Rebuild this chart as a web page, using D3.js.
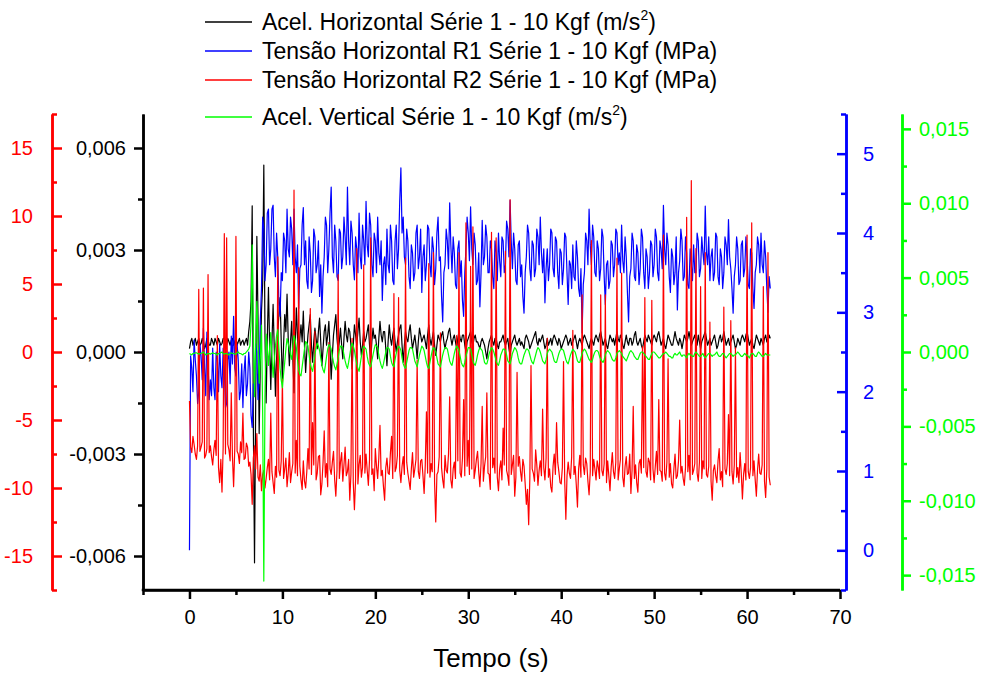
<!DOCTYPE html>
<html>
<head>
<meta charset="utf-8">
<script src="https://cdn.jsdelivr.net/npm/d3@7"></script>
<style>
  body { margin: 0; background: #fff; }
  svg { display: block; }
  text { font-family: "Liberation Sans", Arial, sans-serif; }
</style>
</head>
<body>
<svg id="chart" width="983" height="673"></svg>
<script>
// Sampling step of the recorded series (s); sample i is at t = i * dt
const dt = 0.125;

const timeTicks = [0, 10, 20, 30, 40, 50, 60, 70];
const accelHTicks = [-0.006, -0.003, 0, 0.003, 0.006];
const tensionR1Ticks = [0, 1, 2, 3, 4, 5];
const tensionR2Ticks = [-15, -10, -5, 0, 5, 10, 15];
const accelVTicks = [-0.015, -0.010, -0.005, 0, 0.005, 0.010, 0.015];

// Horizontal acceleration, m/s² (one row = 2.5 s)
const accelH = [
  0.0001, 0.0003, 0.0004, 0.0002, 0.0003, 0.0004, 0.0002, 0.0003, 0.0004, 0.0002, 0.00025, 0.0004, 0.0003, 0.0001, 0.0002, 0.0004, 0.00035, 0.0002, 0.0002, 0.0004,
  0.0003, 0.0002, 0.0004, 0.0003, 0.0002, 0.0004, 0.0003, 0.0002, 0.00025, 0.0004, 0.0004, 0.0002, 0.0002, 0.0004, 0.0003, 0.0002, 0.00035, 0.0004, 0.0002, 0.0003,
  0.0004, 0.0002, 0.0003, 0.0004, 0.0002, 0.0003, 0.00035, 0.0002, 0.0003, 0.0004, 0.0002, 0.0006, 0.0009, 0.0015, 0.0043, -0.0022, -0.0062, -0.0015, 0.0034, 0.0010,
  -0.0024, -0.0004, 0.0012, 0.0020, 0.0055, 0.0005, -0.0015, 0.0004, 0.0019, 0.0002, -0.0011, 0.0003, 0.0014, 0.0001, -0.0013, -0.0002, 0.0006, 0.0011, 0.0016, 0.0003,
  -0.0009, 0.0002, 0.0011, 0.0006, 0.0017, 0.0004, -0.0004, 0.0003, 0.0009, -0.0002, -0.0012, 0.0001, 0.0013, 0.0005, -0.0002, 0.0004, 0.0008, 0.0003, 0.0012, 0.0002,
  -0.0006, 0.0000, 0.0005, 0.0008, 0.0011, 0.0002, -0.0003, 0.0003, 0.0007, 0.0004, 0.0001, 0.0006, 0.0010, 0.0003, -0.0004, 0.0001, 0.0006, 0.0008, 0.0002, 0.0005,
  0.0009, 0.0001, -0.0008, -0.0001, 0.0005, 0.0008, 0.0011, 0.0004, 0.0000, 0.0003, 0.0007, 0.0002, -0.0002, 0.0004, 0.0009, 0.0005, 0.0003, 0.0007, 0.0006, 0.0002,
  -0.0005, 0.0002, 0.0008, 0.0005, 0.0002, 0.0006, 0.0010, 0.0003, -0.0001, 0.0002, 0.0006, 0.0003, 0.0004, 0.0006, 0.0008, 0.0002, -0.0003, 0.0003, 0.0007, 0.0004,
  0.0005, 0.0002, -0.0002, 0.0004, 0.0009, 0.0005, 0.0003, 0.0006, 0.0006, 0.0001, -0.0004, 0.0003, 0.0008, 0.0004, 0.0002, 0.0005, 0.0007, 0.0003, 0.0000, 0.0003,
  0.0005, 0.0007, 0.0008, 0.0002, -0.0003, 0.0002, 0.0006, 0.0004, 0.0003, 0.0006, 0.0008, 0.0004, 0.0001, 0.0003, 0.0005, 0.0002, -0.0002, 0.0003, 0.0007, 0.0005,
  0.0003, 0.0004, 0.0005, 0.0003, 0.0001, 0.0005, 0.0008, 0.0004, 0.0002, 0.0004, 0.0006, 0.0002, -0.0001, 0.0002, 0.0005, 0.0004, 0.0003, 0.0005, 0.0006, 0.0003,
  0.0001, 0.0003, 0.0004, 0.0006, 0.0007, 0.0004, 0.0002, 0.0004, 0.0005, 0.0003, 0.0001, 0.0004, 0.0006, 0.0004, 0.0003, 0.0005, 0.0005, 0.0002, 0.0000, 0.0003,
  0.0004, 0.0005, 0.0006, 0.0003, 0.0002, 0.0004, 0.0005, 0.0003, 0.0003, 0.0002, 0.0001, 0.0003, 0.0004, 0.0003, 0.0002, 0.0000, -0.0002, 0.0001, 0.0003, 0.0004,
  0.0005, 0.0003, 0.0002, 0.0004, 0.0004, 0.0002, 0.0001, 0.0003, 0.0003, 0.0004, 0.0005, 0.0003, 0.0002, 0.0003, 0.0004, 0.0001, -0.0001, 0.0002, 0.0003, 0.0004,
  0.0005, 0.0003, 0.0002, 0.0003, 0.0004, 0.0002, 0.0003, 0.0002, 0.0001, 0.0004, 0.0005, 0.0004, 0.0003, 0.0001, 0.0002, 0.0003, 0.0004, 0.0005, 0.0006, 0.0003,
  0.0002, 0.0004, 0.0003, 0.0004, 0.0005, 0.0003, 0.0001, 0.0002, 0.0004, 0.0002, 0.0003, 0.0004, 0.0002, 0.0004, 0.0005, 0.0004, 0.0003, 0.0002, 0.0004, 0.0003,
  0.0001, 0.0002, 0.0003, 0.0004, 0.0005, 0.0004, 0.0002, 0.0003, 0.0004, 0.0002, 0.0003, 0.0004, 0.0005, 0.0003, 0.0001, 0.0003, 0.0004, 0.0003, 0.0002, 0.0004,
  0.0005, 0.0004, 0.0003, 0.0002, 0.0001, 0.0003, 0.0004, 0.0003, 0.0002, 0.0004, 0.0005, 0.0004, 0.0003, 0.0005, 0.0006, 0.0004, 0.0002, 0.0003, 0.0004, 0.0002,
  0.0001, 0.0003, 0.0005, 0.0004, 0.0003, 0.0004, 0.0002, 0.0004, 0.0006, 0.0004, 0.0003, 0.0005, 0.0004, 0.0002, 0.0001, 0.0003, 0.0005, 0.0003, 0.0002, 0.0004,
  0.0004, 0.0002, 0.0003, 0.0005, 0.0006, 0.0003, 0.0002, 0.0003, 0.0004, 0.0002, 0.0001, 0.0003, 0.0005, 0.0004, 0.0003, 0.0005, 0.0004, 0.0003, 0.0002, 0.0004,
  0.0005, 0.0004, 0.0003, 0.0005, 0.0006, 0.0004, 0.0002, 0.0003, 0.0004, 0.0002, 0.0001, 0.0003, 0.0005, 0.0004, 0.0003, 0.0002, 0.0002, 0.0004, 0.0006, 0.0004,
  0.0003, 0.0002, 0.0004, 0.0003, 0.0001, 0.0003, 0.0005, 0.0004, 0.0003, 0.0004, 0.0006, 0.0004, 0.0002, 0.0003, 0.0004, 0.0005, 0.0003, 0.0002, 0.0005, 0.0003,
  0.0001, 0.0003, 0.0004, 0.0005, 0.0006, 0.0004, 0.0002, 0.0003, 0.0004, 0.0002, 0.0003, 0.0004, 0.0005, 0.0003, 0.0001, 0.0002, 0.0004, 0.0005, 0.0003, 0.0004,
  0.0006, 0.0004, 0.0002, 0.0003, 0.0004, 0.0002, 0.0003, 0.0004, 0.0005, 0.0003, 0.0001, 0.0002, 0.0004, 0.0003, 0.0002, 0.0004, 0.0005, 0.0004, 0.0003, 0.0005,
  0.0006, 0.0004, 0.0002, 0.0003, 0.0004, 0.0002, 0.0001, 0.0003, 0.0005, 0.0004, 0.0003, 0.0002, 0.0004, 0.0003, 0.0002, 0.0004, 0.0005, 0.0003, 0.0003, 0.0005,
  0.0004
];

// Horizontal stress on rosette R1, MPa
const tensionR1 = [
  0.0, 2.45, 2.3, 2.0, 2.65, 2.4, 2.2, 1.85, 2.0, 2.6, 2.45, 2.15, 2.8, 2.3, 1.95, 2.75, 2.35, 1.9, 2.15, 1.95,
  2.55, 2.05, 1.9, 2.5, 2.4, 2.0, 2.6, 2.2, 2.05, 2.55, 2.3, 1.8, 1.85, 2.4, 2.5, 2.1, 2.7, 2.35, 2.95, 2.3,
  2.2, 2.6, 2.4, 1.9, 2.0, 2.35, 1.8, 2.25, 2.45, 1.95, 2.1, 2.5, 2.3, 1.7, 1.55, 2.1, 2.0, 2.6, 2.5, 1.9,
  2.2, 2.9, 3.3, 4.2, 4.05, 3.4, 3.6, 4.25, 4.3, 3.6, 3.8, 4.3, 4.35, 3.7, 3.45, 4.0, 3.7, 3.1, 2.95, 3.5,
  3.4, 4.0, 3.9, 3.5, 4.3, 3.8, 3.7, 4.2, 4.05, 3.6, 4.3, 3.7, 3.5, 3.85, 3.05, 3.55, 3.6, 4.1, 4.32, 3.6,
  3.9, 3.4, 3.3, 3.95, 3.75, 3.25, 3.4, 4.05, 3.95, 3.5, 3.6, 3.9, 3.2, 3.6, 2.99, 3.45, 3.7, 4.2, 4.1, 3.5,
  3.8, 4.25, 4.58, 3.7, 3.5, 4.1, 3.9, 3.45, 3.4, 4.05, 4.0, 3.55, 3.7, 4.2, 3.95, 3.6, 4.58, 3.9, 3.6, 4.15,
  4.0, 3.6, 3.41, 3.95, 3.8, 3.5, 4.25, 3.7, 3.55, 4.1, 3.9, 3.6, 4.4, 3.85, 3.7, 4.25, 4.1, 3.6, 3.45, 4.0,
  3.9, 3.5, 4.2, 3.75, 3.6, 3.9, 3.15, 3.6, 3.7, 3.35, 4.05, 3.6, 3.5, 4.1, 3.9, 3.4, 3.35, 3.9, 4.1, 3.55,
  3.8, 4.4, 4.82, 4.0, 4.2, 3.7, 3.6, 4.05, 3.9, 3.45, 3.3, 3.85, 3.75, 3.4, 3.5, 4.0, 4.1, 3.55, 3.7, 4.05,
  3.25, 3.7, 3.85, 3.4, 3.6, 4.1, 4.05, 3.6, 3.45, 3.95, 3.8, 3.35, 3.55, 4.0, 4.2, 3.65, 3.7, 3.2, 2.88, 3.5,
  3.6, 4.05, 3.9, 3.55, 4.38, 3.85, 3.5, 3.95, 3.75, 3.35, 3.3, 3.8, 3.9, 3.45, 3.65, 3.15, 2.95, 3.5, 3.8, 4.2,
  4.0, 3.65, 4.33, 3.8, 3.6, 4.0, 3.85, 3.35, 3.4, 3.75, 3.07, 3.5, 4.16, 3.6, 3.7, 4.1, 3.95, 3.5, 3.5, 3.9,
  3.8, 3.45, 3.3, 3.9, 3.75, 3.4, 4.0, 3.65, 3.45, 3.95, 3.9, 3.5, 3.6, 4.15, 4.05, 3.7, 4.41, 3.9, 3.55, 4.0,
  3.8, 3.4, 3.35, 3.85, 3.9, 3.45, 3.6, 3.2, 2.99, 3.5, 3.7, 4.1, 4.0, 3.55, 3.4, 3.9, 3.85, 3.45, 3.55, 4.05,
  3.95, 3.6, 4.2, 3.75, 3.5, 3.8, 3.12, 3.55, 3.8, 3.4, 3.6, 4.05, 4.0, 3.55, 3.45, 3.95, 3.9, 3.5, 3.3, 3.8,
  3.75, 3.35, 3.55, 4.0, 3.95, 3.5, 3.1, 3.65, 3.6, 3.3, 3.85, 3.45, 3.4, 3.9, 3.7, 3.3, 3.2, 3.55, 2.74, 3.35,
  3.5, 4.0, 3.9, 3.6, 4.3, 3.85, 3.6, 4.1, 3.95, 3.5, 3.45, 3.9, 3.8, 3.4, 3.55, 4.05, 3.95, 3.45, 3.1, 3.6,
  3.65, 3.3, 3.4, 3.9, 3.85, 3.45, 3.6, 4.05, 4.0, 3.6, 3.75, 3.5, 4.1, 3.65, 3.5, 3.95, 3.7, 3.25, 2.88, 3.45,
  3.55, 4.0, 3.9, 3.45, 3.4, 3.85, 3.75, 3.35, 3.55, 4.05, 3.95, 3.5, 3.3, 3.8, 3.7, 3.3, 3.5, 3.9, 3.85, 3.45,
  3.6, 4.05, 3.95, 3.5, 3.4, 3.9, 3.8, 3.55, 4.35, 3.8, 3.6, 4.0, 3.85, 3.45, 3.25, 3.8, 3.7, 3.35, 3.5, 3.95,
  3.03, 3.5, 3.65, 4.05, 3.9, 3.4, 3.45, 3.95, 3.75, 3.35, 3.3, 3.8, 3.6, 3.4, 3.85, 3.5, 3.5, 4.0, 3.9, 3.45,
  3.55, 3.95, 3.75, 3.6, 4.34, 3.75, 3.6, 3.95, 3.4, 3.7, 3.8, 3.4, 3.5, 4.0, 3.95, 3.45, 3.35, 3.8, 3.7, 3.3,
  3.5, 3.95, 3.85, 3.6, 4.17, 3.7, 3.55, 3.3, 2.99, 3.45, 3.6, 3.95, 3.8, 3.35, 3.4, 3.85, 3.9, 3.45, 3.55, 3.95,
  3.7, 3.35, 3.3, 3.8, 3.75, 3.3, 3.05, 3.5, 3.6, 3.95, 3.85, 3.5, 4.0, 3.6, 3.5, 3.9, 3.7, 3.3, 3.0, 3.45,
  3.3
];

// Horizontal stress on rosette R2, MPa
const tensionR2 = [
  -3.6, -7.0, -7.4, -6.2, -6.8, -7.5, -7.9, -6.9, 4.6, -7.3, -7.0, -6.6, 4.7, -7.8, -7.6, -7.1, 5.7, -7.4, -6.9, -7.7,
  -8.3, -7.2, -6.5, -7.6, 1.2, -8.5, -9.6, -7.9, -10.3, -7.0, 8.7, -7.5, 8.4, -6.8, -7.2, -8.0, -3.0, -7.7, -9.9, -7.1,
  8.5, -7.3, -7.5, -8.2, -6.6, -7.4, -4.5, -7.9, -7.8, -6.7, -7.0, -8.4, -8.1, -9.0, -11.2, -7.8, -6.9, -8.6, -6.0, -9.2,
  -9.5, -8.3, -10.2, -9.0, -8.7, -10.0, -9.3, -8.5, -7.9, -9.4, -4.5, -8.8, -9.6, -10.4, -8.4, -9.2, 7.0, -8.7, -9.1, -8.0,
  -2.0, -9.3, -8.6, -7.8, -9.9, -8.9, -7.4, -9.6, -8.8, -8.2, 11.9, -8.9, -6.5, -9.1, 6.2, -8.4, -9.4, -10.1, -8.0, -9.5,
  -10.0, -8.8, -7.1, -8.6, 3.2, -9.0, -5.2, -8.3, 1.5, -9.4, -8.9, -7.7, -7.6, -10.5, -9.7, -8.1, -5.8, -9.2, -8.2, -9.9,
  0.7, -8.6, -9.0, -8.1, -7.3, -9.4, -10.6, -8.7, 5.7, -9.3, -8.1, -7.4, -9.5, -8.3, -7.0, -9.1, -8.8, -7.9, -10.9, -9.0,
  1.0, -9.6, -11.6, -9.4, 7.6, -9.7, -8.3, -7.6, -9.2, -8.5, 6.4, -8.9, -7.5, -8.7, -9.8, -7.9, 8.4, -9.0, -8.6, -10.2,
  -7.1, -8.4, -9.3, -7.8, -5.4, -9.1, -8.7, -9.9, -10.9, -8.5, -7.8, -8.9, -9.0, -7.4, -6.2, -9.3, 4.3, -8.8, -8.5, -7.6,
  4.0, -8.7, -9.6, -8.4, -7.7, -9.0, 6.9, -8.1, -8.9, -9.5, -10.1, -8.6, -7.4, -9.2, -8.6, -7.9, -0.6, -8.8, -9.3, -8.0,
  -7.9, -9.1, -10.4, -8.3, -4.4, -8.9, 6.5, -9.2, -8.2, -8.8, 7.3, -9.6, -12.5, -9.0, -8.8, -7.7, 1.4, -8.5, -9.4, -10.0,
  -7.6, -8.7, -8.9, -7.5, -3.3, -9.4, -10.0, -8.6, -8.1, -9.3, 1.2, -8.0, 7.3, -8.9, -9.2, -7.8, -3.5, -9.1, 9.5, -8.4,
  -6.5, -9.0, 6.3, -8.6, 9.2, -9.3, -8.7, -7.9, -7.3, -8.8, -9.9, -8.2, -4.0, -9.5, -8.4, -7.7, -3.0, -8.9, -9.0, -10.1,
  8.8, -8.5, -7.8, -8.9, 8.4, -9.2, -10.2, -8.6, -8.0, -9.4, -5.6, -8.3, 7.4, -8.7, -9.1, -9.8, 11.2, -9.0, -8.3, -7.6,
  -10.6, -9.2, -1.5, -8.4, -7.7, -8.8, -9.5, -7.9, -8.4, -9.7, -11.2, -10.1, -12.7, -9.3, -1.0, -8.6, -8.9, -9.5, -7.2, -8.3,
  -9.8, -8.7, -8.0, -9.1, -4.2, -8.5, -9.4, -7.8, 1.0, -9.2, -8.6, -9.9, -10.3, -8.4, -7.5, -9.0, -5.2, -8.1, -8.8, -9.6,
  -9.7, -8.5, -0.7, -9.4, -12.3, -9.1, -8.1, -8.9, -9.3, -7.7, 1.6, -9.0, -8.4, -9.8, -11.4, -8.6, -7.6, -9.2, 4.2, -8.3,
  -9.0, -7.8, -8.2, -9.5, -10.5, -8.8, 8.2, -9.1, -7.9, -8.6, -9.4, -8.0, -8.5, -9.3, 4.2, -8.7, -9.1, -8.2, 4.2, -9.6,
  -8.0, -9.1, -10.2, -8.5, -7.4, -8.8, -9.3, -8.1, 6.9, -9.4, -8.6, -7.9, 5.8, -9.2, -9.9, -8.4, -7.7, -9.0, -8.9, -7.5,
  -10.4, -8.7, -4.0, -9.3, -8.3, -9.6, -10.3, -8.2, -7.9, -8.9, 0.4, -8.5, 4.0, -8.8, -9.2, -7.8, -8.1, -9.4, 3.8, -8.6,
  -9.6, -8.4, -7.3, -9.0, -3.5, -8.7, -8.8, -9.5, 8.6, -8.9, -9.4, -8.1, -0.5, -9.2, -8.2, -9.7, -10.0, -8.6, -7.5, -9.3,
  -9.1, -8.0, -5.0, -8.9, -8.4, -9.3, -9.8, -8.5, 9.9, -8.8, -7.6, -9.4, 12.6, -9.0, -8.7, -8.2, 7.6, -8.9, -9.5, -8.1,
  4.8, -9.3, -8.0, -8.6, 7.3, -9.0, -9.2, -8.4, 2.2, -9.5, -10.9, -8.7, -8.3, -9.1, -9.6, -8.0, -7.1, -9.4, -8.8, -9.9,
  3.3, -8.6, -9.0, -8.2, -4.6, -9.1, 2.3, -8.8, -9.7, -8.3, 0.3, -9.2, -8.5, -9.6, -7.4, -8.9, -10.8, -9.0, -8.2, -9.4,
  8.6, -8.8, -9.3, -8.5, 9.5, -9.1, -8.0, -9.4, -10.6, -8.7, -7.5, -8.9, -9.0, -8.3, 4.8, -9.5, -10.7, -8.6, 7.3, -9.2,
  -9.8
];

// Vertical acceleration, m/s²
const accelV = [
  -0.0001, -0.00015, -0.0002, -0.0001, -0.0001, -0.00005, -0.00005, -0.0001, -0.00015, -0.0001, -0.0001, -0.00005, 0.0000, -0.0001, -0.0002, -0.00015, -0.0001, -0.0001, -0.00015, -0.0001,
  -0.00005, -0.0001, -0.0001, -0.00015, -0.0002, -0.0001, -0.0001, -0.00005, 0.0000, -0.0001, -0.00015, -0.0001, -0.0001, -0.00015, -0.0002, -0.0001, -0.00005, -0.0001, -0.0001, -0.00015,
  -0.00015, -0.00005, 0.0000, -0.0001, -0.0001, -0.00015, -0.0002, -0.0001, -0.0001, 0.0000, 0.0001, 0.0002, 0.0004, 0.0020, 0.0072, 0.0015, -0.0030, 0.0005, 0.0034, 0.0008,
  -0.0021, -0.0004, 0.0018, -0.0040, -0.0154, -0.0030, 0.0012, 0.0003, -0.0009, 0.0002, 0.0013, -0.0003, -0.0017, -0.0006, 0.0004, 0.0011, 0.0015, 0.0002, -0.0011, -0.0019,
  -0.0024, -0.0015, -0.0007, 0.0002, 0.0009, 0.0006, 0.0002, -0.0002, -0.0005, 0.0004, 0.0011, 0.0008, 0.0003, -0.0005, -0.0012, -0.0015, -0.0016, -0.0010, -0.0004, 0.0002,
  0.0007, 0.0006, 0.0004, -0.0002, -0.0008, -0.0011, -0.0013, -0.0008, -0.0002, 0.0003, 0.0006, 0.0004, 0.0001, -0.0004, -0.0009, -0.0012, -0.0014, -0.0009, -0.0003, 0.0002,
  0.0005, 0.0004, 0.0002, -0.0003, -0.0007, -0.0010, -0.0012, -0.0008, -0.0004, 0.0001, 0.0004, 0.0004, 0.0003, -0.0002, -0.0006, -0.0009, -0.0011, -0.0007, -0.0002, 0.0003,
  0.0006, 0.0004, 0.0001, -0.0004, -0.0008, -0.0011, -0.0013, -0.0008, -0.0003, 0.0001, 0.0004, 0.0003, 0.0002, -0.0003, -0.0007, -0.0009, -0.0010, -0.0006, -0.0002, 0.0002,
  0.0005, 0.0004, 0.0003, -0.0002, -0.0006, -0.0009, -0.0011, -0.0008, -0.0004, 0.0000, 0.0003, 0.0003, 0.0002, -0.0003, -0.0007, -0.0009, -0.0010, -0.0005, -0.0001, 0.0002,
  0.0004, 0.0003, 0.0001, -0.0004, -0.0008, -0.0010, -0.0011, -0.0007, -0.0003, 0.0001, 0.0003, 0.0003, 0.0002, -0.0002, -0.0006, -0.0008, -0.0010, -0.0006, -0.0002, 0.0001,
  0.0004, 0.0003, 0.0001, -0.0003, -0.0007, -0.0010, -0.0011, -0.0007, -0.0003, 0.0001, 0.0003, 0.0002, 0.0000, -0.0004, -0.0008, -0.0009, -0.0010, -0.0006, -0.0002, 0.0001,
  0.0003, 0.0003, 0.0002, -0.0002, -0.0006, -0.0008, -0.0009, -0.0005, -0.0001, 0.0002, 0.0004, 0.0003, 0.0001, -0.0003, -0.0007, -0.0009, -0.0010, -0.0007, -0.0003, 0.0000,
  0.0003, 0.0003, 0.0002, -0.0002, -0.0006, -0.0008, -0.0009, -0.0006, -0.0002, 0.0001, 0.0003, 0.0002, 0.0001, -0.0003, -0.0007, -0.0008, -0.0008, -0.0005, -0.0001, 0.0001,
  0.0003, 0.0002, 0.0000, -0.0003, -0.0006, -0.0008, -0.0009, -0.0006, -0.0002, 0.0000, 0.0002, 0.0002, 0.0001, -0.0002, -0.0006, -0.0007, -0.0008, -0.0005, -0.0001, 0.0001,
  0.0003, 0.0002, 0.0000, -0.0004, -0.0007, -0.0008, -0.0008, -0.0005, -0.0002, 0.0000, 0.0002, 0.0002, 0.0001, -0.0002, -0.0005, -0.0007, -0.0008, -0.0005, -0.0002, 0.0001,
  0.0003, 0.0002, 0.0000, -0.0003, -0.0006, -0.0007, -0.0008, -0.0005, -0.0001, 0.0001, 0.0002, 0.0001, 0.0000, -0.0003, -0.0006, -0.0007, -0.0007, -0.0004, -0.0001, 0.0001,
  0.0002, 0.0002, 0.0001, -0.0002, -0.0005, -0.0007, -0.0008, -0.0005, -0.0002, 0.0000, 0.0002, 0.0001, 0.0000, -0.0003, -0.0006, -0.0007, -0.0007, -0.0004, -0.0001, 0.0001,
  0.0002, 0.0001, -0.0001, -0.0003, -0.0005, -0.0006, -0.0007, -0.0005, -0.0002, 0.0000, 0.0001, 0.0001, 0.0000, -0.0003, -0.0005, -0.0006, -0.0007, -0.0005, -0.0002, 0.0000,
  0.0001, 0.0000, -0.0001, -0.0003, -0.0005, -0.0006, -0.0006, -0.0004, -0.0001, 0.0000, 0.0001, 0.0000, -0.0001, -0.0003, -0.0004, -0.0005, -0.0006, -0.0004, -0.0002, 0.0000,
  0.0001, 0.0000, -0.0001, -0.0003, -0.0004, -0.0005, -0.0005, -0.0003, -0.0001, 0.0000, 0.0000, -0.0001, -0.0002, -0.0003, -0.0004, -0.0005, -0.0005, -0.0003, -0.0001, 0.0000,
  0.0000, -0.0001, -0.0002, -0.0003, -0.0004, -0.0004, -0.0003, -0.0002, -0.0001, -0.0001, 0.0000, -0.0001, -0.0002, -0.0003, -0.0003, -0.0004, -0.0004, -0.0002, -0.0001, -0.0002,
  -0.0002, -0.0001, 0.0000, -0.0002, -0.0003, -0.0002, -0.0002, -0.0003, -0.0004, -0.0002, -0.0001, -0.0002, -0.0002, -0.0003, -0.0003, -0.0001, 0.0000, -0.0001, -0.0002, -0.0003,
  -0.0003, -0.0002, -0.0001, -0.0003, -0.0004, -0.0003, -0.0002, -0.0001, -0.0001, -0.0002, -0.0003, -0.0002, -0.0002, -0.0001, 0.0000, -0.0002, -0.0003, -0.0003, -0.0002, -0.0001,
  -0.0001, -0.0003, -0.0004, -0.0003, -0.0002, -0.0001, -0.0001, -0.0002, -0.0003, -0.0002, -0.0002, -0.0001, 0.0000, -0.0001, -0.0002, -0.0003, -0.0003, -0.0002, -0.0001, -0.0002,
  -0.0002, -0.0003, -0.0004, -0.0002, -0.0001, -0.0001, -0.0002, -0.0003, -0.0003, -0.0001, 0.0000, -0.0001, -0.0002, -0.0003, -0.0003, -0.0002, -0.0001, -0.0002, -0.0002, -0.0002,
  -0.0002
];

const legendLabels = [
  { main: "Acel. Horizontal Série 1 - 10 Kgf (m/s", sup: "2", tail: ")" },
  { main: "Tensão Horizontal R1 Série 1 - 10 Kgf (MPa)" },
  { main: "Tensão Horizontal R2 Série 1 - 10 Kgf (MPa)" },
  { main: "Acel. Vertical Série 1 - 10 Kgf (m/s", sup: "2", tail: ")" }
];
const xTitle = "Tempo (s)";

const BLACK = "#000000", BLUE = "#0000ff", RED = "#ff0000", GREEN = "#00ff00";

const svg = d3.select("#chart");

// Plot area: x spans -5..70 s; every y axis shares the same vertical extent
const plotTop = 114, plotBottom = 590;
const x = d3.scaleLinear().domain([-5, 70]).range([143, 840]);
const yH = d3.scaleLinear().domain([-0.007, 0.007]).range([plotBottom, plotTop]);
const yR1 = d3.scaleLinear().domain([-0.5, 5.5]).range([plotBottom, plotTop]);
const yR2 = d3.scaleLinear().domain([-17.5, 17.5]).range([plotBottom, plotTop]);
const yV = d3.scaleLinear().domain([-0.016, 0.016]).range([plotBottom, plotTop]);

// Decimal comma, hyphen minus
const loc = d3.formatLocale({ decimal: ",", thousands: ".", grouping: [3], currency: ["", ""], minus: "-" });
const f3 = loc.format(".3f");
const f0 = loc.format("d");

function styleAxis(g, color, fontSize) {
  g.attr("font-family", null).attr("font-size", null);
  g.select(".domain").attr("stroke", color).attr("stroke-width", 2.5);
  g.selectAll(".tick line").attr("stroke", color).attr("stroke-width", 2.5);
  g.selectAll(".tick text").attr("fill", color).style("font-size", fontSize + "px");
}
function minorTicks(start, stop, step) {
  return d3.range(start, stop + step / 2, step);
}

// ---- Bottom time axis ----
const gx = svg.append("g").attr("transform", `translate(0,${plotBottom})`)
  .call(d3.axisBottom(x).tickValues(timeTicks).tickFormat(f0).tickSize(9).tickSizeOuter(0).tickPadding(11));
styleAxis(gx, BLACK, 20);
const gxm = svg.append("g").attr("transform", `translate(0,${plotBottom})`)
  .call(d3.axisBottom(x).tickValues(minorTicks(-5, 65, 10)).tickFormat("").tickSize(5).tickSizeOuter(0));
styleAxis(gxm, BLACK, 20);
gx.select(".domain").attr("d", `M${x(-5) - 1.25},0H${x(70)}`);

svg.append("text").attr("x", 491).attr("y", 667).attr("text-anchor", "middle")
  .style("font-size", "26px").attr("fill", BLACK).text(xTitle);

// ---- Left black axis (horizontal acceleration) ----
const axH = 143;
const gH = svg.append("g").attr("transform", `translate(${axH},0)`)
  .call(d3.axisLeft(yH).tickValues(accelHTicks).tickFormat(f3).tickSize(9).tickSizeOuter(0).tickPadding(8));
styleAxis(gH, BLACK, 20);
const gHm = svg.append("g").attr("transform", `translate(${axH},0)`)
  .call(d3.axisLeft(yH).tickValues([-0.0045, -0.0015, 0.0015, 0.0045]).tickFormat("").tickSize(5).tickSizeOuter(0));
styleAxis(gHm, BLACK, 20);

// ---- Left red axis (R2 stress), offset outward ----
const axR2 = 52;
const gR2 = svg.append("g").attr("transform", `translate(${axR2},0)`)
  .call(d3.axisLeft(yR2).tickValues(tensionR2Ticks).tickFormat(f0).tickSize(-10).tickSizeOuter(0).tickPadding(19));
styleAxis(gR2, RED, 20);
const gR2m = svg.append("g").attr("transform", `translate(${axR2},0)`)
  .call(d3.axisLeft(yR2).tickValues(minorTicks(-17.5, 17.5, 5)).tickFormat("").tickSize(-5).tickSizeOuter(0));
styleAxis(gR2m, RED, 20);

// ---- Right blue axis (R1 stress) ----
const axR1 = 846;
const gR1 = svg.append("g").attr("transform", `translate(${axR1},0)`)
  .call(d3.axisRight(yR1).tickValues(tensionR1Ticks).tickFormat(f0).tickSize(-9).tickSizeOuter(0).tickPadding(17));
styleAxis(gR1, BLUE, 20);
const gR1m = svg.append("g").attr("transform", `translate(${axR1},0)`)
  .call(d3.axisRight(yR1).tickValues(minorTicks(-0.5, 5.5, 1)).tickFormat("").tickSize(-5).tickSizeOuter(0));
styleAxis(gR1m, BLUE, 20);

// ---- Right green axis (vertical acceleration), offset outward ----
const axV = 902;
const gV = svg.append("g").attr("transform", `translate(${axV},0)`)
  .call(d3.axisRight(yV).tickValues(accelVTicks).tickFormat(f3).tickSize(9).tickSizeOuter(0).tickPadding(8));
styleAxis(gV, GREEN, 20);
const gVm = svg.append("g").attr("transform", `translate(${axV},0)`)
  .call(d3.axisRight(yV).tickValues(minorTicks(-0.0125, 0.0125, 0.005)).tickFormat("").tickSize(5).tickSizeOuter(0));
styleAxis(gVm, GREEN, 20);

// ---- Series ----
const series = [
  { data: accelH, y: yH, color: BLACK },
  { data: tensionR1, y: yR1, color: BLUE },
  { data: tensionR2, y: yR2, color: RED },
  { data: accelV, y: yV, color: GREEN }
];
const plot = svg.append("g");
series.forEach(s => {
  const line = d3.line().x((d, i) => x(i * dt)).y(d => s.y(d));
  plot.append("path").datum(s.data).attr("fill", "none")
    .attr("stroke", s.color).attr("stroke-width", 1.2)
    .attr("stroke-linejoin", "round").attr("d", line);
});

// ---- Legend ----
const legendY = [22, 51, 80, 117];
const legend = svg.append("g");
legendLabels.forEach((lab, k) => {
  const yy = legendY[k];
  legend.append("line").attr("x1", 205).attr("x2", 252).attr("y1", yy).attr("y2", yy)
    .attr("stroke", series[k].color).attr("stroke-width", 1.5);
  const t = legend.append("text").attr("x", 262).attr("y", yy + 8)
    .style("font-size", "23px").attr("fill", BLACK);
  t.append("tspan").text(lab.main);
  if (lab.sup) {
    t.append("tspan").attr("dy", -10).style("font-size", "14px").text(lab.sup);
    t.append("tspan").attr("dy", 10).text(lab.tail);
  }
});
</script>
</body>
</html>
